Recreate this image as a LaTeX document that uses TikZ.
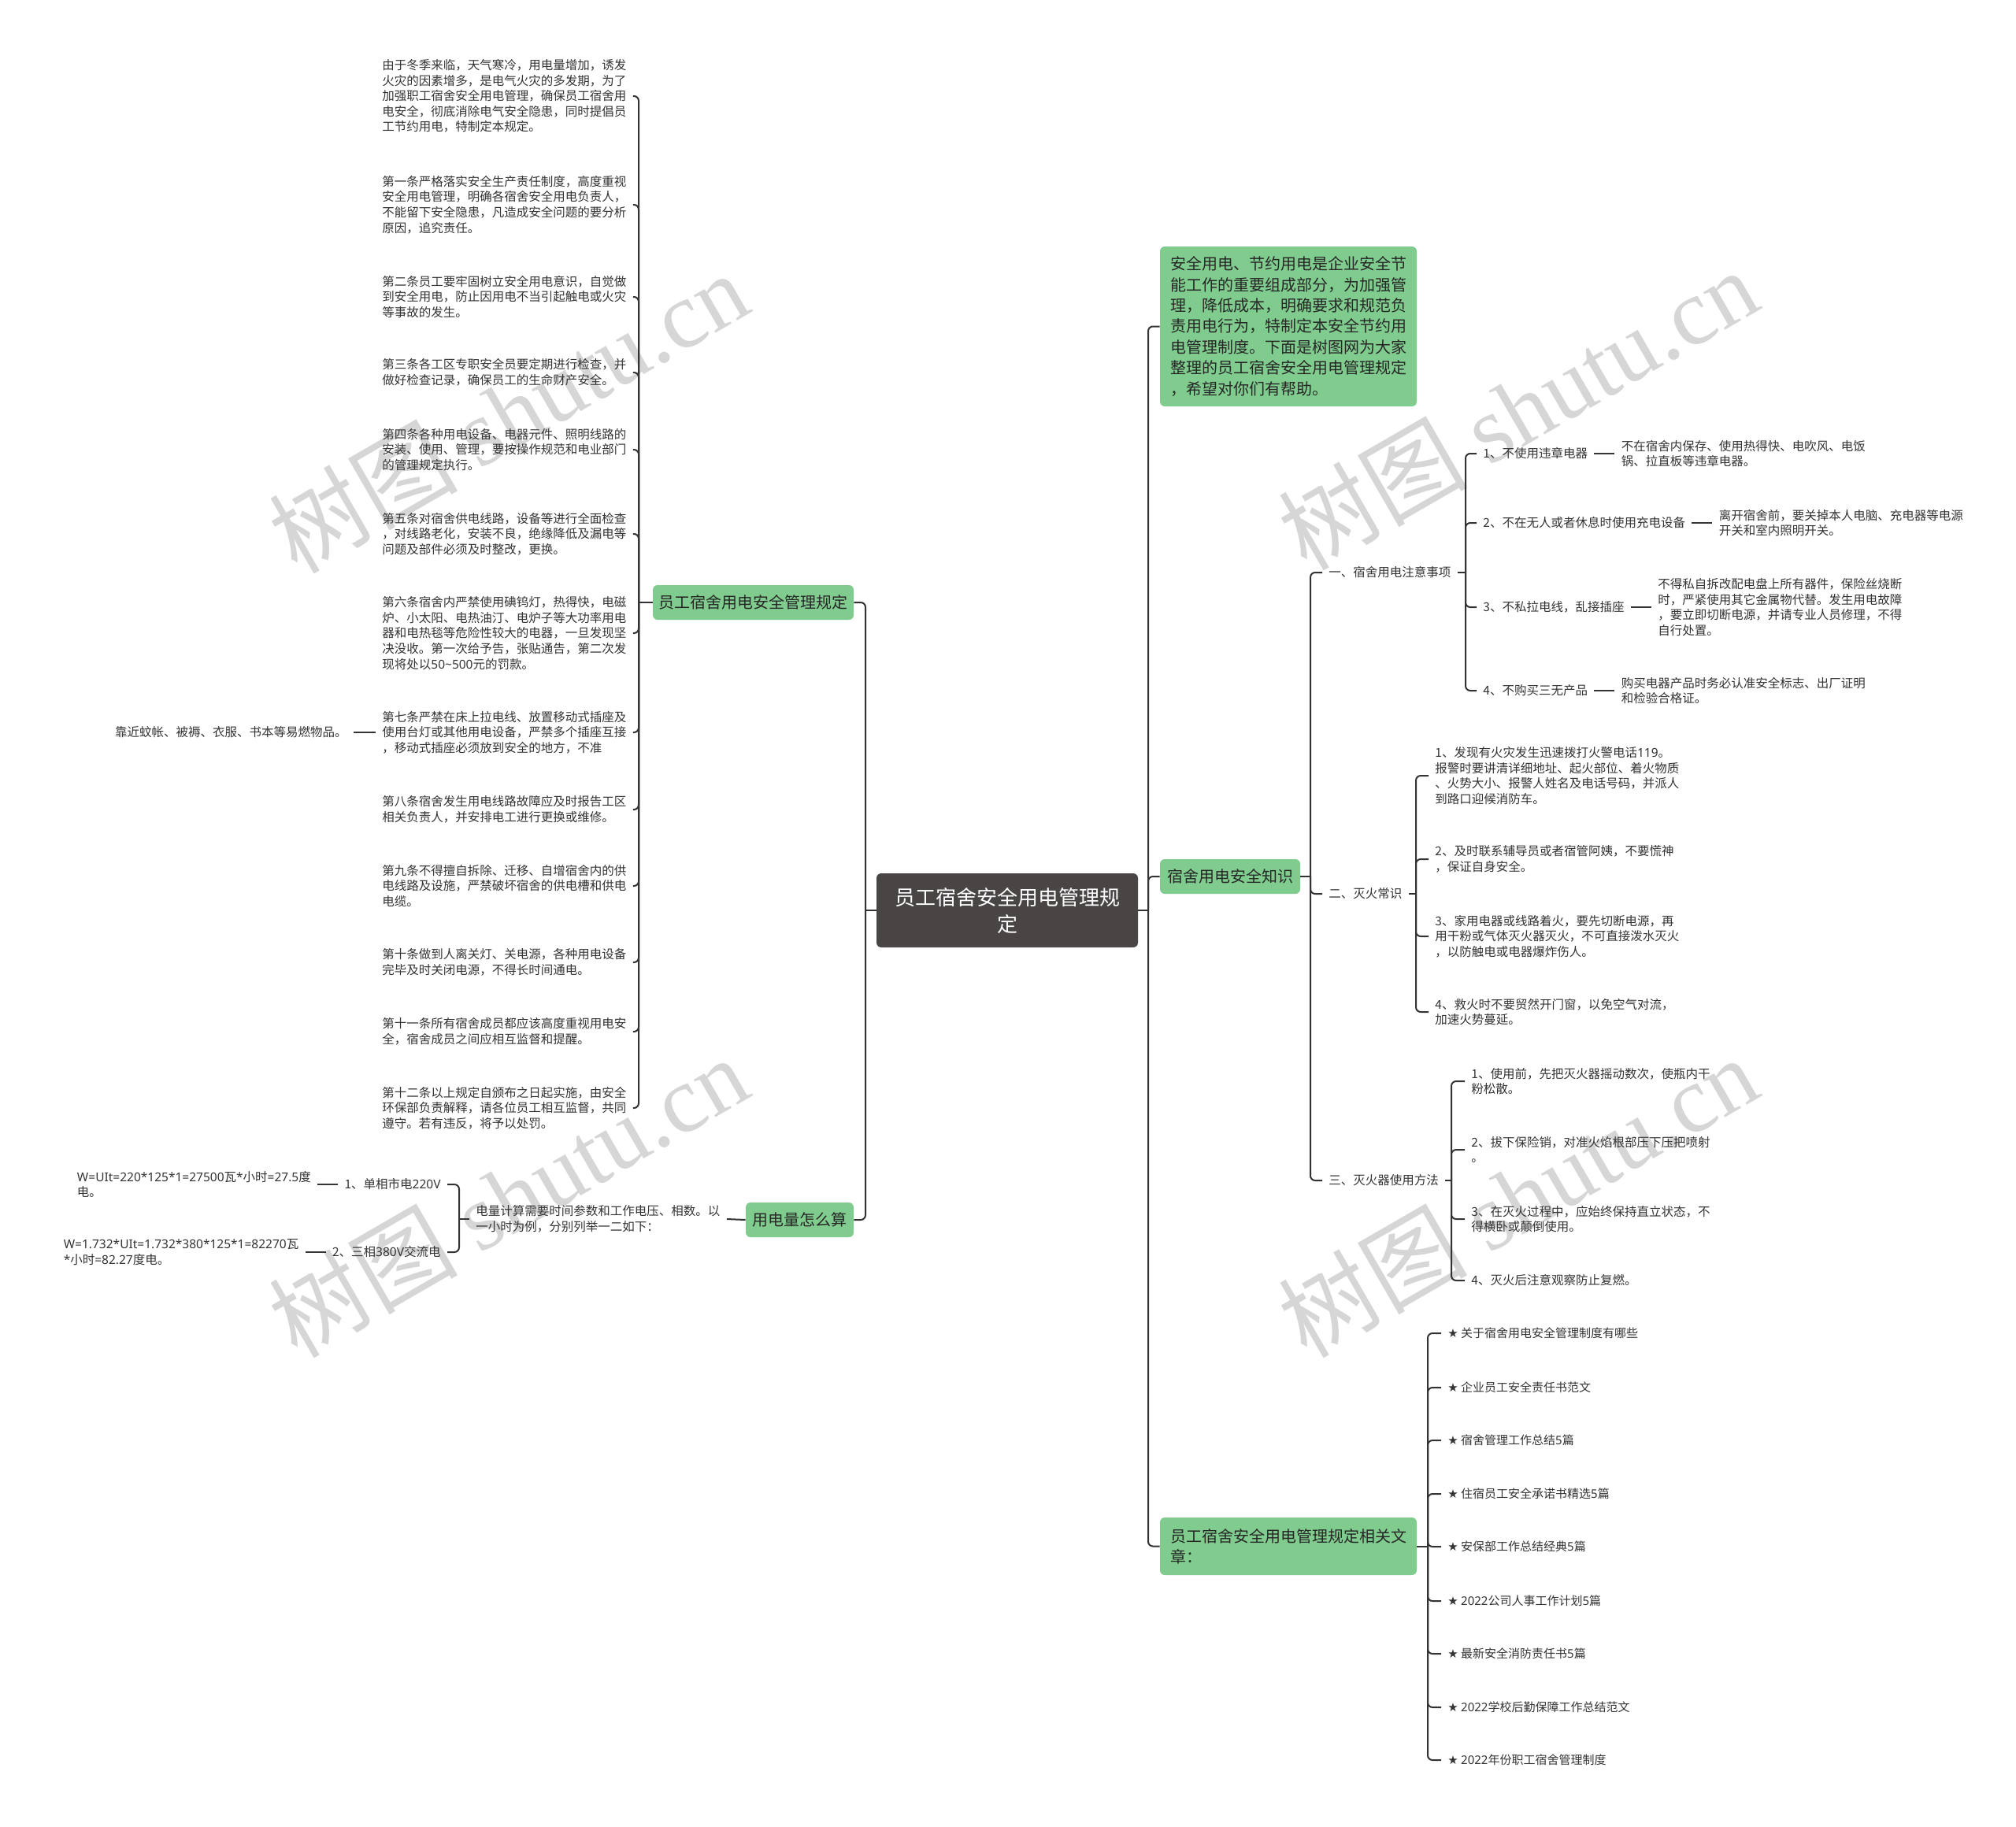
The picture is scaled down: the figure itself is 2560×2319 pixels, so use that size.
\documentclass[tikz,border=0pt]{standalone}
\usepackage{fontspec}
\setmainfont{Noto Sans CJK SC}
\newfontfamily\wmfont{Liberation Serif}
\newfontfamily\starfont{DejaVu Sans}
\newfontfamily\latinfont{Noto Sans}
\definecolor{boxgreen}{HTML}{80CC8E}
\definecolor{centergray}{HTML}{4A4545}
\definecolor{linegray}{HTML}{333333}
\definecolor{txt}{HTML}{333333}
\definecolor{wm}{HTML}{D6D6D6}
\newcommand{\lat}[1]{{\latinfont #1}}
\begin{document}
\begin{tikzpicture}[x=0.5pt,y=-0.5pt,
  conn/.style={draw=linegray,line width=1pt,rounded corners=3pt},
  small/.style={font=\fontsize{7.75}{9.8}\selectfont,text=txt,align=left,inner xsep=4pt,inner ysep=1pt},
  staritem/.style={font=\fontsize{7.5}{9.8}\selectfont,text=txt,align=left,inner xsep=4pt,inner ysep=1pt,anchor=west},
  mainbox/.style={fill=boxgreen,rounded corners=3pt,font=\fontsize{10}{13.2}\selectfont,text=black!85,inner sep=0pt},
  centerbox/.style={fill=centergray,rounded corners=3pt,text=white,font=\fontsize{13}{17}\selectfont,align=center,minimum width=166pt,minimum height=47pt,inner sep=0pt},
  wmark/.style={text=wm,rotate=30,font=\fontsize{60}{64}\selectfont,inner sep=0pt}
]
\useasboundingbox (0,0) rectangle (2560,2319);
\fill[white] (0,0) rectangle (2560,2319);

% watermarks
\node[wmark] (w1) at (645,523) {树图 {\wmfont shutu.cn}};
\node[wmark] (w2) at (645,1519) {树图 {\wmfont shutu.cn}};
\node[wmark] (w3) at (1927,519) {树图 {\wmfont shutu.cn}};
\node[wmark] (w4) at (1927,1519) {树图 {\wmfont shutu.cn}};

% center
\node[centerbox] (c) at (1279,1156) {员工宿舍安全用电管理规\\定};

% main branches
\node[mainbox,minimum width=127.5pt,minimum height=22pt] (b1) at (956.5,765) {员工宿舍用电安全管理规定};
\node[mainbox,minimum width=68.5pt,minimum height=22pt] (b2) at (1015.5,1549) {用电量怎么算};
\node[mainbox,minimum width=163pt,minimum height=101.5pt,align=left] (r1) at (1636,414.5) {安全用电、节约用电是企业安全节\\能工作的重要组成部分，为加强管\\理，降低成本，明确要求和规范负\\责用电行为，特制定本安全节约用\\电管理制度。下面是树图网为大家\\整理的员工宿舍安全用电管理规定\\，希望对你们有帮助。};
\node[mainbox,minimum width=89pt,minimum height=22pt] (r2) at (1562,1113) {宿舍用电安全知识};
\node[mainbox,minimum width=163pt,minimum height=36.5pt,align=left] (r3) at (1636,1963.5) {员工宿舍安全用电管理规定相关文\\章：};

\draw[conn] (c.west) -- (1099,1156);
\draw[conn] (1099,1156) |- (b1.east);
\draw[conn] (1099,1156) |- (b2.east);
\draw[conn] (c.east) -- (1458,1156);
\draw[conn] (1458,1156) |- (r1.west);
\draw[conn] (1458,1156) |- (r2.west);
\draw[conn] (1458,1156) |- (r3.west);

% left column
\node[small,anchor=west] (L1) at (477,122) {由于冬季来临，天气寒冷，用电量增加，诱发\\火灾的因素增多，是电气火灾的多发期，为了\\加强职工宿舍安全用电管理，确保员工宿舍用\\电安全，彻底消除电气安全隐患，同时提倡员\\工节约用电，特制定本规定。};
\node[small,anchor=west] (L2) at (477,260) {第一条严格落实安全生产责任制度，高度重视\\安全用电管理，明确各宿舍安全用电负责人，\\不能留下安全隐患，凡造成安全问题的要分析\\原因，追究责任。};
\node[small,anchor=west] (L3) at (477,377) {第二条员工要牢固树立安全用电意识，自觉做\\到安全用电，防止因用电不当引起触电或火灾\\等事故的发生。};
\node[small,anchor=west] (L4) at (477,473) {第三条各工区专职安全员要定期进行检查，并\\做好检查记录，确保员工的生命财产安全。};
\node[small,anchor=west] (L5) at (477,571) {第四条各种用电设备、电器元件、照明线路的\\安装、使用、管理，要按操作规范和电业部门\\的管理规定执行。};
\node[small,anchor=west] (L6) at (477,678) {第五条对宿舍供电线路，设备等进行全面检查\\，对线路老化，安装不良，绝缘降低及漏电等\\问题及部件必须及时整改，更换。};
\node[small,anchor=west] (L7) at (477,804) {第六条宿舍内严禁使用碘钨灯，热得快，电磁\\炉、小太阳、电热油汀、电炉子等大功率用电\\器和电热毯等危险性较大的电器，一旦发现坚\\决没收。第一次给予告，张贴通告，第二次发\\现将处以\lat{50\textasciitilde500}元的罚款。};
\node[small,anchor=west] (L8) at (477,930) {第七条严禁在床上拉电线、放置移动式插座及\\使用台灯或其他用电设备，严禁多个插座互接\\，移动式插座必须放到安全的地方，不准};
\node[small,anchor=west] (L9) at (477,1028) {第八条宿舍发生用电线路故障应及时报告工区\\相关负责人，并安排电工进行更换或维修。};
\node[small,anchor=west] (L10) at (477,1125) {第九条不得擅自拆除、迁移、自增宿舍内的供\\电线路及设施，严禁破坏宿舍的供电槽和供电\\电缆。};
\node[small,anchor=west] (L11) at (477,1222) {第十条做到人离关灯、关电源，各种用电设备\\完毕及时关闭电源，不得长时间通电。};
\node[small,anchor=west] (L12) at (477,1310) {第十一条所有宿舍成员都应该高度重视用电安\\全，宿舍成员之间应相互监督和提醒。};
\node[small,anchor=west] (L13) at (477,1407) {第十二条以上规定自颁布之日起实施，由安全\\环保部负责解释，请各位员工相互监督，共同\\遵守。若有违反，将予以处罚。};
\draw[conn] (b1.west) -- (811,765);
\foreach \n in {L1,L2,L3,L4,L5,L6,L7,L8,L9,L10,L11,L12,L13}
  \draw[conn] (811,765) |- (\n.east);
\node[small,anchor=east] (L8c) at ([xshift=-14pt]L8.west) {靠近蚊帐、被褥、衣服、书本等易燃物品。};
\draw[conn] (L8.west) -- (L8c.east);

% power calculation
\node[small,anchor=west] (M1) at (596,1548) {电量计算需要时间参数和工作电压、相数。以\\一小时为例，分别列举一二如下：};
\draw[conn] (b2.west) -- (M1.east);
\draw[conn] (M1.west) -- (583,1548);
\node[small,anchor=east] (N1) at (568,1504) {1、单相市电\lat{220V}};
\node[small,anchor=east] (N2) at (568,1590) {2、三相\lat{380V}交流电};
\draw[conn] (583,1548) |- (N1.east);
\draw[conn] (583,1548) |- (N2.east);
\node[small,anchor=east] (N1c) at ([xshift=-13pt]N1.west) {\lat{W=UIt=220*125*1=27500}瓦\lat{*}小时\lat{=27.5}度\\电。};
\node[small,anchor=east] (N2c) at ([xshift=-13pt]N2.west) {\lat{W=1.732*UIt=1.732*380*125*1=82270}瓦\\\lat{*}小时\lat{=82.27}度电。};
\draw[conn] (N1.west) -- (N1c.east);
\draw[conn] (N2.west) -- (N2c.east);

% knowledge
\draw[conn] (r2.east) -- (1664,1113);
\node[small,anchor=west] (K1) at (1679,727) {一、宿舍用电注意事项};
\node[small,anchor=west] (K2) at (1679,1135) {二、灭火常识};
\node[small,anchor=west] (K3) at (1679,1499) {三、灭火器使用方法};
\draw[conn] (1664,1113) |- (K1.west);
\draw[conn] (1664,1113) |- (K2.west);
\draw[conn] (1664,1113) |- (K3.west);

\draw[conn] (K1.east) -- (1861,727);
\node[small,anchor=west] (P1) at (1875,576) {1、不使用违章电器};
\node[small,anchor=west] (P2) at (1875,664) {2、不在无人或者休息时使用充电设备};
\node[small,anchor=west] (P3) at (1875,771) {3、不私拉电线，乱接插座};
\node[small,anchor=west] (P4) at (1875,877) {4、不购买三无产品};
\foreach \n in {P1,P2,P3,P4}
  \draw[conn] (1861,727) |- (\n.west);
\node[small,anchor=west] (Q1) at ([xshift=13pt]P1.east) {不在宿舍内保存、使用热得快、电吹风、电饭\\锅、拉直板等违章电器。};
\node[small,anchor=west] (Q2) at ([xshift=13pt]P2.east) {离开宿舍前，要关掉本人电脑、充电器等电源\\开关和室内照明开关。};
\node[small,anchor=west] (Q3) at ([xshift=13pt]P3.east) {不得私自拆改配电盘上所有器件，保险丝烧断\\时，严紧使用其它金属物代替。发生用电故障\\，要立即切断电源，并请专业人员修理，不得\\自行处置。};
\node[small,anchor=west] (Q4) at ([xshift=13pt]P4.east) {购买电器产品时务必认准安全标志、出厂证明\\和检验合格证。};
\draw[conn] (P1.east) -- (Q1.west);
\draw[conn] (P2.east) -- (Q2.west);
\draw[conn] (P3.east) -- (Q3.west);
\draw[conn] (P4.east) -- (Q4.west);

\draw[conn] (K2.east) -- (1798,1135);
\node[small,anchor=west] (F1) at (1814,985) {1、发现有火灾发生迅速拨打火警电话\lat{119}。\\报警时要讲清详细地址、起火部位、着火物质\\、火势大小、报警人姓名及电话号码，并派人\\到路口迎候消防车。};
\node[small,anchor=west] (F2) at (1814,1091) {2、及时联系辅导员或者宿管阿姨，不要慌神\\，保证自身安全。};
\node[small,anchor=west] (F3) at (1814,1189) {3、家用电器或线路着火，要先切断电源，再\\用干粉或气体灭火器灭火，不可直接泼水灭火\\，以防触电或电器爆炸伤人。};
\node[small,anchor=west] (F4) at (1814,1285) {4、救火时不要贸然开门窗，以免空气对流，\\加速火势蔓延。};
\foreach \n in {F1,F2,F3,F4}
  \draw[conn] (1798,1135) |- (\n.west);

\draw[conn] (K3.east) -- (1843,1499);
\node[small,anchor=west] (G1) at (1860,1373) {1、使用前，先把灭火器摇动数次，使瓶内干\\粉松散。};
\node[small,anchor=west] (G2) at (1860,1460) {2、拔下保险销，对准火焰根部压下压把喷射\\。};
\node[small,anchor=west] (G3) at (1860,1548) {3、在灭火过程中，应始终保持直立状态，不\\得横卧或颠倒使用。};
\node[small,anchor=west] (G4) at (1860,1626) {4、灭火后注意观察防止复燃。};
\foreach \n in {G1,G2,G3,G4}
  \draw[conn] (1843,1499) |- (\n.west);

% related articles
\draw[conn] (r3.east) -- (1813,1963.5);
\node[staritem] (S1) at (1830,1693) {{\starfont ★} 关于宿舍用电安全管理制度有哪些};
\node[staritem] (S2) at (1830,1762) {{\starfont ★} 企业员工安全责任书范文};
\node[staritem] (S3) at (1830,1829) {{\starfont ★} 宿舍管理工作总结\lat{5}篇};
\node[staritem] (S4) at (1830,1897) {{\starfont ★} 住宿员工安全承诺书精选\lat{5}篇};
\node[staritem] (S5) at (1830,1964) {{\starfont ★} 安保部工作总结经典\lat{5}篇};
\node[staritem] (S6) at (1830,2033) {{\starfont ★} \lat{2022}公司人事工作计划\lat{5}篇};
\node[staritem] (S7) at (1830,2100) {{\starfont ★} 最新安全消防责任书\lat{5}篇};
\node[staritem] (S8) at (1830,2168) {{\starfont ★} \lat{2022}学校后勤保障工作总结范文};
\node[staritem] (S9) at (1830,2235) {{\starfont ★} \lat{2022}年份职工宿舍管理制度};
\foreach \n in {S1,S2,S3,S4,S5,S6,S7,S8,S9}
  \draw[conn] (1813,1963.5) |- (\n.west);
\end{tikzpicture}
\end{document}
